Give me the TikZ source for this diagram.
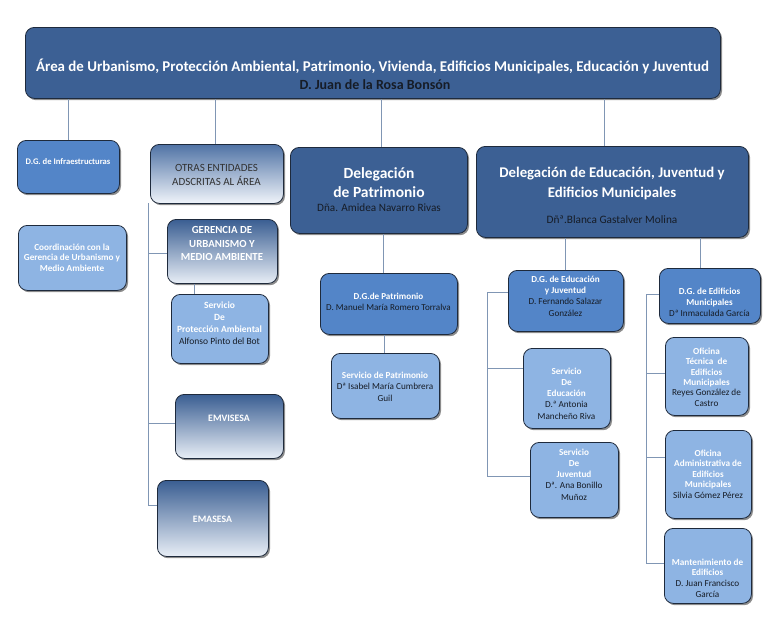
\documentclass[tikz,border=0pt]{standalone}
\usepackage{fontspec}
\setmainfont{Carlito}
\usetikzlibrary{shadows,calc}
\definecolor{darkfill}{RGB}{60,96,148}
\definecolor{medfill}{RGB}{83,133,200}
\definecolor{lightfill}{RGB}{142,180,227}
\definecolor{gradtop}{RGB}{58,94,146}
\definecolor{gradbot}{RGB}{232,238,246}
\definecolor{boxborder}{RGB}{30,42,60}
\definecolor{connc}{RGB}{128,150,180}
\definecolor{namec}{RGB}{22,28,38}
\definecolor{otrasc}{RGB}{50,50,50}
\tikzset{
  basebox/.style={draw=boxborder, line width=0.8pt, rounded corners=9pt, anchor=north west, inner sep=0pt,
    drop shadow={shadow xshift=1.6pt, shadow yshift=-1.8pt, fill=black, opacity=0.45}},
  darkbox/.style={basebox, fill=darkfill},
  medbox/.style={basebox, fill=medfill},
  lightbox/.style={basebox, fill=lightfill},
  gradbox/.style={basebox, top color=gradtop, bottom color=gradbot},
  otrasbox/.style={basebox, top color={rgb,255:red,80;green,115;blue,165}, bottom color={rgb,255:red,240;green,244;blue,250}},
  conn/.style={draw=connc, line width=0.9pt},
  txt/.style={align=center, inner sep=0pt, text=white},
}
\newcommand\bx[6]{\node[#1, minimum width={(#5-#3)*1pt}, minimum height={(#6-#4)*1pt}] (#2) at (#3,#4) {};}
\newcommand\nm[1]{\textcolor{namec}{\mdseries #1}}
\begin{document}
\begin{tikzpicture}[x=1pt,y=-1pt]
\useasboundingbox[fill=white] (0,0) rectangle (768,632);
% boxes
\bx{darkbox}{top}{25}{27}{720}{98}
\bx{medbox}{infra}{17}{140}{119}{193}
\bx{lightbox}{coord}{18}{225}{126}{290}
\bx{otrasbox}{otras}{150}{144}{283}{203}
\bx{gradbox}{ger}{167}{219}{277}{283}
\bx{lightbox}{sprot}{171}{294}{268}{363}
\bx{gradbox}{emv}{175}{394}{283}{458}
\bx{gradbox}{emas}{157}{480}{268}{556}
\bx{darkbox}{pat}{290}{147}{467}{233}
\bx{medbox}{dgpat}{320}{273}{457}{334}
\bx{lightbox}{spat}{331}{353}{439}{418}
\bx{darkbox}{edu}{476}{146}{748}{237}
\bx{medbox}{dgedu}{508}{270}{623}{331}
\bx{lightbox}{sedu}{523}{348}{610}{428}
\bx{lightbox}{sjuv}{530}{442}{618}{517}
\bx{medbox}{dgedif}{659}{268}{760}{323}
\bx{lightbox}{oftec}{665}{337}{748}{415}
\bx{lightbox}{ofadm}{665}{430}{751}{518}
\bx{lightbox}{mant}{664}{528}{751}{603}
% texts
\node[txt, font=\fontsize{14.9}{16}\selectfont\bfseries] (topT1) at (372.5,66) {Área de Urbanismo, Protección Ambiental, Patrimonio, Vivienda, Edificios Municipales, Educación y Juventud};
\node[txt, font=\fontsize{14}{16}\selectfont\bfseries] (topT2) at (375,84.5) {\textcolor{namec}{D. Juan de la Rosa Bonsón}};
\node[txt, font=\fontsize{8.6}{10.5}\selectfont\bfseries] (infraT) at (68,162) {D.G. de Infraestructuras};
\node[txt, font=\fontsize{9.2}{10.6}\selectfont\bfseries] (coordT) at (72,257.5) {Coordinación con la\\Gerencia de Urbanismo y\\Medio Ambiente};
\node[txt, text=otrasc, font=\fontsize{11}{14}\selectfont] (otrasT) at (216.5,175) {OTRAS ENTIDADES\\ADSCRITAS AL ÁREA};
\node[txt, font=\fontsize{10.8}{13.5}\selectfont\bfseries] (gerT) at (222,243.5) {GERENCIA DE\\URBANISMO Y\\MEDIO AMBIENTE};
\node[txt, font=\fontsize{9.5}{12}\selectfont\bfseries] (sprotT) at (219.5,323) {Servicio\\De\\Protección Ambiental\\\nm{Alfonso Pinto del Bot}};
\node[txt, font=\fontsize{9.8}{10}\selectfont\bfseries] (emvT) at (229,418) {EMVISESA};
\node[txt, font=\fontsize{9.8}{10}\selectfont\bfseries] (emasT) at (212.5,519) {EMASESA};
\node[txt, font=\fontsize{15.5}{19}\selectfont\bfseries] (patT1) at (379,182.5) {Delegación\\de Patrimonio};
\node[txt, font=\fontsize{11.2}{12}\selectfont] (patT2) at (379,208) {\nm{Dña. Amidea Navarro Rivas}};
\node[txt, font=\fontsize{9.1}{11}\selectfont\bfseries] (dgpatT) at (388.5,301.5) {D.G.de Patrimonio\\\nm{D. Manuel María Romero Torralva}};
\node[txt, font=\fontsize{9.2}{11.5}\selectfont\bfseries] (spatT) at (385,386.5) {Servicio de Patrimonio\\\nm{Dª Isabel María Cumbrera}\\\nm{Guil}};
\node[txt, font=\fontsize{14.8}{20}\selectfont\bfseries] (eduT1) at (612,183) {Delegación de Educación, Juventud y\\Edificios Municipales};
\node[txt, font=\fontsize{11.3}{12}\selectfont] (eduT2) at (612,220) {\nm{Dñª.Blanca Gastalver Molina}};
\node[txt, font=\fontsize{9.2}{11.3}\selectfont\bfseries] (dgeduT) at (565.5,296) {D.G. de Educación\\y Juventud\\\nm{D. Fernando Salazar}\\\nm{González}};
\node[txt, font=\fontsize{9.2}{11.2}\selectfont\bfseries] (seduT) at (566.5,393.5) {Servicio\\De\\Educación\\\nm{D.ª Antonia}\\\nm{Mancheño Riva}};
\node[txt, font=\fontsize{9.2}{11.2}\selectfont\bfseries] (sjuvT) at (574,474.5) {Servicio\\De\\Juventud\\\nm{Dª. Ana Bonillo}\\\nm{Muñoz}};
\node[txt, font=\fontsize{9.2}{11}\selectfont\bfseries] (dgedifT) at (709.5,302) {D.G. de Edificios\\Municipales\\\nm{Dª Inmaculada García}};
\node[txt, font=\fontsize{9.2}{10.4}\selectfont\bfseries] (oftecT) at (706.5,377) {Oficina\\Técnica\ \ de\\Edificios\\Municipales\\\nm{Reyes González de}\\\nm{Castro}};
\node[txt, font=\fontsize{9.2}{10.5}\selectfont\bfseries] (ofadmT) at (708,474) {Oficina\\Administrativa de\\Edificios\\Municipales\\\nm{Silvia Gómez Pérez}};
\node[txt, font=\fontsize{9.2}{10.7}\selectfont\bfseries] (mantT) at (707.5,578) {Mantenimiento de\\Edificios\\\nm{D. Juan Francisco}\\\nm{García}};
% connectors from top
\draw[conn] (infra.north) -- (infra.north |- top.south);
\draw[conn] ([xshift=-1.5pt]otras.north) -- ([xshift=-1.5pt]otras.north |- top.south);
\draw[conn] ([xshift=2.5pt]pat.north) -- ([xshift=2.5pt]pat.north |- top.south);
\draw[conn] ([xshift=-8pt]edu.north) -- ([xshift=-8pt]edu.north |- top.south);
% patrimonio chain
\draw[conn] ([xshift=-5.5pt]dgpat.north) -- ([xshift=-5.5pt]dgpat.north |- pat.south);
\draw[conn] ([xshift=-1pt]spat.north) -- ([xshift=-1pt]spat.north |- dgpat.south);
% gerencia -> servicio
\draw[conn] ([xshift=-25.5pt]sprot.north) -- ([xshift=-25.5pt]sprot.north |- ger.south);
% otras spine
\coordinate (otrasS) at (148,203);
\coordinate (gerB) at (148,253);
\coordinate (emvB) at (148,423);
\coordinate (emasB) at (148,505);
\draw[conn] (otrasS) -- (emasB);
\draw[conn] (gerB) -- (gerB -| ger.west);
\draw[conn] (emvB) -- (emvB -| emv.west);
\draw[conn] (emasB) -- (emasB -| emas.west);
% education
\draw[conn] (dgedu.north) -- (dgedu.north |- edu.south);
\draw[conn] ([xshift=-9.5pt]dgedif.north) -- ([xshift=-9.5pt]dgedif.north |- edu.south);
\coordinate (dgeduB) at (487,292);
\coordinate (seduB) at (487,368);
\coordinate (sjuvB) at (487,476);
\draw[conn] (dgeduB) -- (sjuvB);
\draw[conn] (dgeduB) -- (dgeduB -| dgedu.west);
\draw[conn] (seduB) -- (seduB -| sedu.west);
\draw[conn] (sjuvB) -- (sjuvB -| sjuv.west);
% edificios
\coordinate (dgedifB) at (646,294);
\coordinate (oftecB) at (646,373);
\coordinate (ofadmB) at (646,457);
\coordinate (mantB) at (646,563);
\draw[conn] (dgedifB) -- (mantB);
\draw[conn] (dgedifB) -- (dgedifB -| dgedif.west);
\draw[conn] (oftecB) -- (oftecB -| oftec.west);
\draw[conn] (ofadmB) -- (ofadmB -| ofadm.west);
\draw[conn] (mantB) -- (mantB -| mant.west);
\end{tikzpicture}
\end{document}
